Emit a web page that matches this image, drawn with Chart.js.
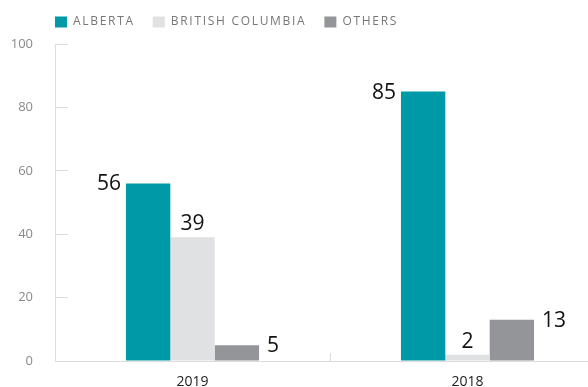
<!DOCTYPE html>
<html>
<head>
<meta charset="utf-8">
<script src="https://cdn.jsdelivr.net/npm/chart.js@4.4.0/dist/chart.umd.min.js"></script>
<style>
  html, body { margin: 0; padding: 0; overflow: hidden; background: #fff; }
  #barChart { display: block; }
</style>
</head>
<body>
<canvas id="barChart" width="605" height="387"></canvas>
<script>
"use strict";

// chart data
var years = ['2019', '2018'];
var alberta = [56, 85];
var britishColumbia = [39, 2];
var others = [5, 13];
var yTicks = [0, 20, 40, 60, 80, 100];

var FONT = "'Open Sans', sans-serif";
var AXIS = '#dcdcdc';

// value labels next to / above bars
var valueLabels = {
  id: 'valueLabels',
  afterDatasetsDraw: function (chart) {
    var ctx = chart.ctx;
    ctx.save();
    ctx.font = '21px ' + FONT;
    ctx.fillStyle = '#111';
    chart.data.datasets.forEach(function (ds, i) {
      var meta = chart.getDatasetMeta(i);
      meta.data.forEach(function (bar, j) {
        var v = ds.data[j];
        if (i === 0) {
          ctx.textAlign = 'right';
          ctx.textBaseline = 'middle';
          ctx.fillText(v, bar.x - bar.width / 2 - 5, bar.y + 1);
        } else if (i === 1) {
          ctx.textAlign = 'center';
          ctx.textBaseline = 'alphabetic';
          ctx.fillText(v, bar.x, bar.y - 7);
        } else {
          ctx.textAlign = 'left';
          ctx.textBaseline = 'middle';
          ctx.fillText(v, bar.x + bar.width / 2 + 8, bar.y + 1);
        }
      });
    });
    ctx.restore();
  }
};

// spaced legend text + legend position
var legendTweak = {
  id: 'legendTweak',
  afterInit: function (chart) {
    var lg = chart.legend;
    ['fit', 'draw'].forEach(function (fn) {
      var orig = lg[fn];
      lg[fn] = function () {
        chart.ctx.save();
        chart.ctx.letterSpacing = '1.7px';
        var r = orig.apply(this, arguments);
        chart.ctx.restore();
        if (fn === 'fit') this.height = 44; // plot starts at y=44
        return r;
      };
    });
  },
  afterLayout: function (chart) {
    chart.legend.left = 55 - 18;
    chart.legend.top = -2;
  }
};

const el = document.getElementById('barChart');

new Chart(el, {
  type: 'bar',
  data: {
    labels: years,
    datasets: [
      { label: 'ALBERTA', data: alberta, backgroundColor: '#0099a8' },
      { label: 'BRITISH COLUMBIA', data: britishColumbia, backgroundColor: '#e0e1e3' },
      { label: 'OTHERS', data: others, backgroundColor: '#939598' }
    ]
  },
  options: {
    responsive: false,
    animation: false,
    datasets: {
      bar: { barPercentage: 1, categoryPercentage: 0.484, borderWidth: 0 }
    },
    layout: { autoPadding: false, padding: 0 },
    scales: {
      x: {
        grid: { drawOnChartArea: false, tickLength: -8, color: AXIS, offset: true },
        border: { color: AXIS, width: 1 },
        ticks: { color: '#222', font: { family: FONT, size: 14 }, padding: 21 },
        afterFit: function (scale) { scale.height = 26; }
      },
      y: {
        min: 0,
        max: 100,
        afterBuildTicks: function (scale) {
          scale.ticks = yTicks.map(function (v) { return { value: v }; });
        },
        grid: { drawOnChartArea: false, tickLength: -13, color: AXIS },
        border: { color: AXIS, width: 1 },
        ticks: { color: '#8a8a8a', font: { family: FONT, size: 13 }, padding: 35 },
        afterFit: function (scale) {
          scale.width = 55;
          scale.paddingTop = 0;
          scale.paddingBottom = 0;
        }
      }
    },
    plugins: {
      legend: {
        position: 'top',
        align: 'start',
        labels: {
          boxWidth: 12,
          boxHeight: 11,
          padding: 18,
          color: '#777',
          font: { family: FONT, size: 12 }
        }
      },
      tooltip: { enabled: false }
    }
  },
  plugins: [valueLabels, legendTweak]
});
</script>
</body>
</html>
